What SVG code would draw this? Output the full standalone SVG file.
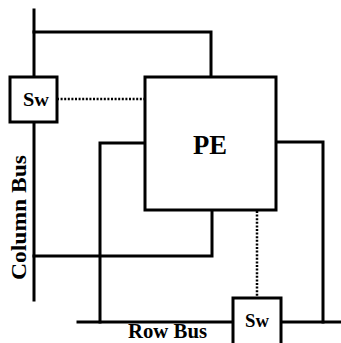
<svg xmlns="http://www.w3.org/2000/svg" width="341" height="343" viewBox="0 0 341 343">
<style>
.w{fill:none;stroke:#000;stroke-width:3;stroke-linecap:square}
.d{fill:none;stroke:#000;stroke-width:2.5;stroke-dasharray:2 1.6}
.b{fill:#fff;stroke:#000;stroke-width:3}
.t{font-family:"Liberation Serif","Times New Roman",serif;fill:#000;font-weight:bold}
</style>
<rect width="341" height="343" fill="#fff"/>
<g id="connectors">
<path class="w" d="M34 10V300"/>
<path class="w" d="M34 32H211V77"/>
<path class="w" d="M145 143H100V322"/>
<path class="w" d="M212 210V256H34"/>
<path class="w" d="M276 142H323V322"/>
<path class="w" d="M78 322H341"/>
<path class="d" d="M57 99H145"/>
<path class="d" d="M257 211V298"/>
</g>
<g id="column-bus-label"><text class="t" font-size="22" transform="translate(26 280) rotate(-90)" textLength="125" lengthAdjust="spacingAndGlyphs">Column Bus</text></g>
<g id="row-bus-label"><text class="t" font-size="20" x="128" y="338" textLength="79" lengthAdjust="spacingAndGlyphs">Row Bus</text></g>
<g id="pe"><rect class="b" x="145" y="77" width="131" height="133"/><text class="t" font-size="27" x="193" y="154" textLength="34" lengthAdjust="spacingAndGlyphs">PE</text></g>
<g id="sw-column"><rect class="b" x="10" y="77" width="47" height="45"/><text class="t" font-size="19" x="23" y="106" textLength="26" lengthAdjust="spacingAndGlyphs">Sw</text></g>
<g id="sw-row"><rect class="b" x="233" y="298" width="48" height="50"/><text class="t" font-size="19" x="245" y="327" textLength="24" lengthAdjust="spacingAndGlyphs">Sw</text></g>
</svg>
